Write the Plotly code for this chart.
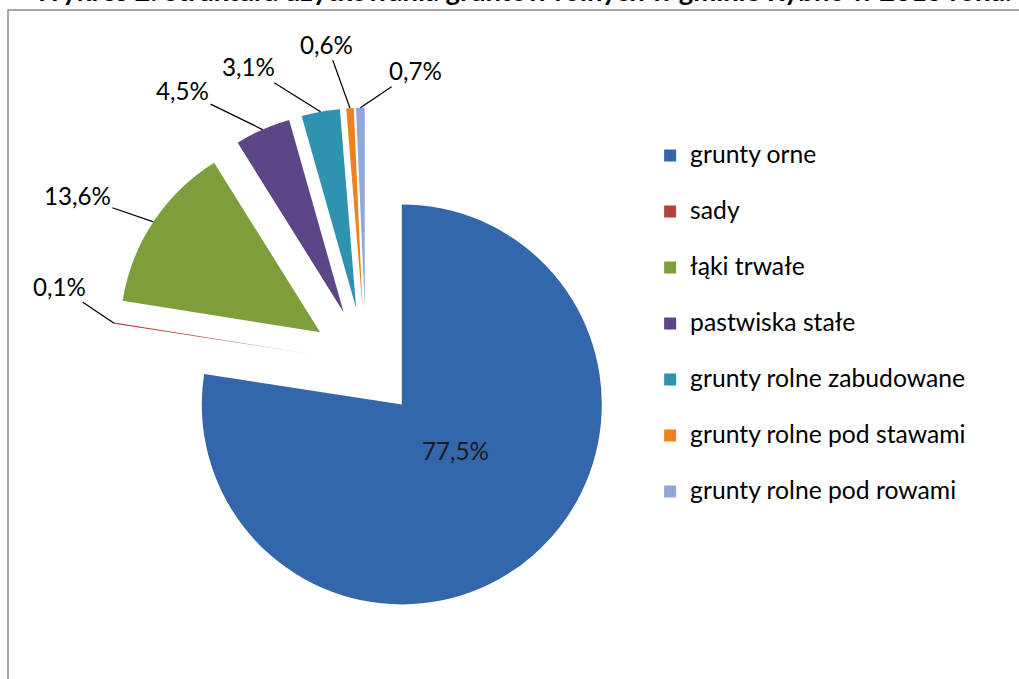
import math
import plotly.graph_objects as go

# ---- data ----
categories = ["grunty orne", "sady", "łąki trwałe", "pastwiska stałe",
              "grunty rolne zabudowane", "grunty rolne pod stawami",
              "grunty rolne pod rowami"]
shares = [77.5, 0.1, 13.6, 4.5, 3.1, 0.6, 0.7]
title_text = "Wykres 2. Struktura użytkowania gruntów rolnych w gminie Rybno w 2015 roku."

# ---- style ----
colors = ["#3366AA", "#B5403C", "#7D9E3B", "#5E4587", "#2F93B0", "#EB821E", "#8EA8D9"]
W, H = 1019, 679
FONT = "Lato"
dom_x = [0.1089, 0.6094]
dom_y = [0.0903, 0.8415]
PULL = 0.275
# text offsets (px) of outside labels from the slice tip
label_offsets = [None, (-55, -37), (-76, -26), (-80, -39), (-72, -45), (-23, -64), (55, -37)]
inside_frac = 0.41  # radial position of the inside label

legend_labels = [f"<span style='font-size:24.7px'>{c}</span><br> " for c in categories]

fig = go.Figure(go.Pie(
    labels=legend_labels,
    values=shares,
    sort=False,
    direction="clockwise",
    rotation=0,
    pull=PULL,
    marker=dict(colors=colors, line=dict(width=0)),
    textinfo="none",
    domain=dict(x=dom_x, y=dom_y),
    hoverinfo="label+value",
))

# labels positioned from the pie geometry
cx = W * (dom_x[0] + dom_x[1]) / 2
cy = H * (1 - (dom_y[0] + dom_y[1]) / 2)
r = min(W * (dom_x[1] - dom_x[0]), H * (dom_y[1] - dom_y[0])) / 2 / (1 + PULL)
total = sum(shares)
annotations = []
cum = 0.0
for i, v in enumerate(shares):
    mid = (cum + v / 2) / total * 2 * math.pi
    cum += v
    label = f"{v:.1f}%".replace(".", ",")
    if label_offsets[i] is None:
        dist = PULL * r + inside_frac * r
        px = cx + dist * math.sin(mid)
        py = cy - dist * math.cos(mid)
        annotations.append(dict(
            x=px / W, y=1 - py / H, xref="paper", yref="paper",
            text=label, showarrow=False,
            font=dict(family=FONT, size=24.2, color="#1a1a1a"),
        ))
        continue
    dist = (1 + PULL) * r
    px = cx + dist * math.sin(mid)
    py = cy - dist * math.cos(mid)
    ax, ay = label_offsets[i]
    annotations.append(dict(
        x=px / W, y=1 - py / H, xref="paper", yref="paper",
        text=label,
        showarrow=True, arrowhead=0, arrowwidth=1.3, arrowcolor="#000000",
        ax=ax, ay=ay, standoff=0,
        font=dict(family=FONT, size=24.2, color="#000000"),
    ))

annotations.append(dict(
    x=0.513, y=1.0, xref="paper", yref="paper", xanchor="center", yanchor="middle",
    yshift=10, showarrow=False, text=title_text,
    font=dict(family=FONT, size=27.4, color="#000000", weight="bold"),
))

fig.update_layout(
    width=W, height=H,
    margin=dict(l=0, r=0, t=0, b=0),
    paper_bgcolor="#ffffff",
    separators=", ",
    font=dict(family=FONT, color="#000000"),
    legend=dict(
        x=0.638, y=0.80, xanchor="left", yanchor="top",
        valign="top",
        font=dict(family=FONT, size=20.38, color="#000000"),
        bgcolor="rgba(0,0,0,0)",
    ),
    annotations=annotations,
    shapes=[dict(type="rect", xref="paper", yref="paper",
                 x0=8 / W, x1=1.05, y0=-0.05, y1=1 - 10 / H,
                 line=dict(color="#8a8a8a", width=1.5), fillcolor="rgba(0,0,0,0)",
                 layer="below")],
)

fig.write_html("out.html", config={"displayModeBar": False},
               post_script="document.body.style.margin='0';document.body.style.overflow='hidden';")
